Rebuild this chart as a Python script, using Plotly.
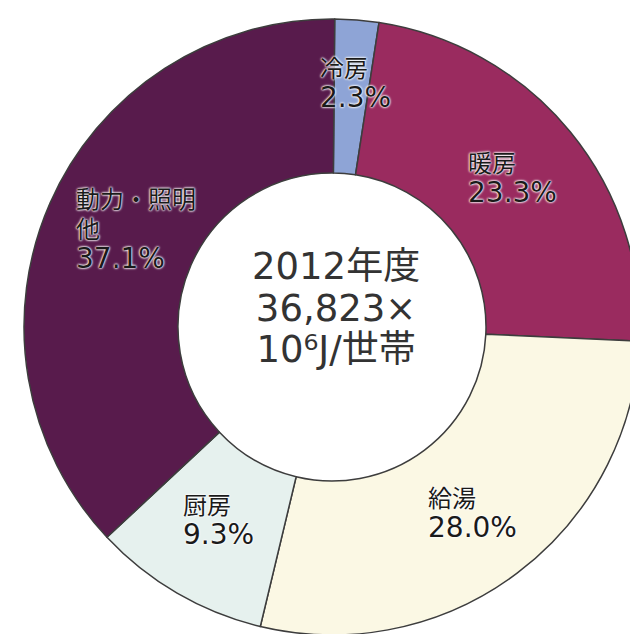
import math
import plotly.graph_objects as go

categories = ["冷房", "暖房", "給湯", "厨房", "動力・照明他"]
display_labels = ["冷房", "暖房", "給湯", "厨房", "動力・照明<br>他"]
shares = [2.3, 23.3, 28.0, 9.3, 37.1]
colors = ["#8ea4d6", "#9a2b5f", "#fbf8e4", "#e6f1ee", "#581b4c"]
center_lines = ["2012年度", "36,823×", "10⁶J/世帯"]

ROTATION = 0.5
LABEL_R = [0.79, 0.755, 0.76, 0.73, 0.71]
LABEL_DA = [1, 0, 0, 0, 2.5]  # small angular nudges (deg) for label placement

fig = go.Figure(go.Pie(
    labels=categories,
    values=shares,
    textinfo="none",
    marker=dict(colors=colors, line=dict(color="#3d3d3d", width=1.5)),
    sort=False,
    direction="clockwise",
    rotation=ROTATION,
    hole=0.5,
    showlegend=False,
    hoverinfo="label+percent",
))

total = sum(shares)
cum = 0.0
label_font = dict(family="DejaVu Sans, Noto Sans CJK JP", size=23, color="#1a1a1a",
                  shadow="0px 0px 2px white, 0px 0px 2px white, 0px 0px 3px white")
for lab, v, rf, da in zip(display_labels, shares, LABEL_R, LABEL_DA):
    mid = (cum + v / 2) / total * 360 + ROTATION + da
    cum += v
    th = math.radians(mid)
    name = "<br>".join(f"<span style='font-size:24px'>{p}</span>" for p in lab.split("<br>"))
    fig.add_annotation(
        text=f"{name}<br><span style='font-size:28px'>{v:.1f}%</span>",
        x=0.5 + 0.5 * rf * math.sin(th),
        y=0.5 + 0.5 * rf * math.cos(th),
        xref="paper", yref="paper", showarrow=False,
        xanchor="center", yanchor="middle",
        align="left", font=label_font,
    )

center_text = "<br>".join(f"<span style='font-size:37px'>{s}</span>" for s in center_lines)
fig.add_annotation(text=center_text, x=0.506, y=0.531, xref="paper", yref="paper",
                   showarrow=False, xanchor="center", yanchor="middle",
                   font=dict(family="DejaVu Sans, Noto Sans CJK JP", size=32, color="#333333"))

fig.update_layout(
    width=640, height=635,
    margin=dict(l=24, r=0, t=19, b=0),
    paper_bgcolor="white",
    plot_bgcolor="white",
)

fig.write_html(
    "out.html",
    config={"displayModeBar": False},
    post_script="document.body.style.margin='0';document.body.style.overflow='hidden';",
)
